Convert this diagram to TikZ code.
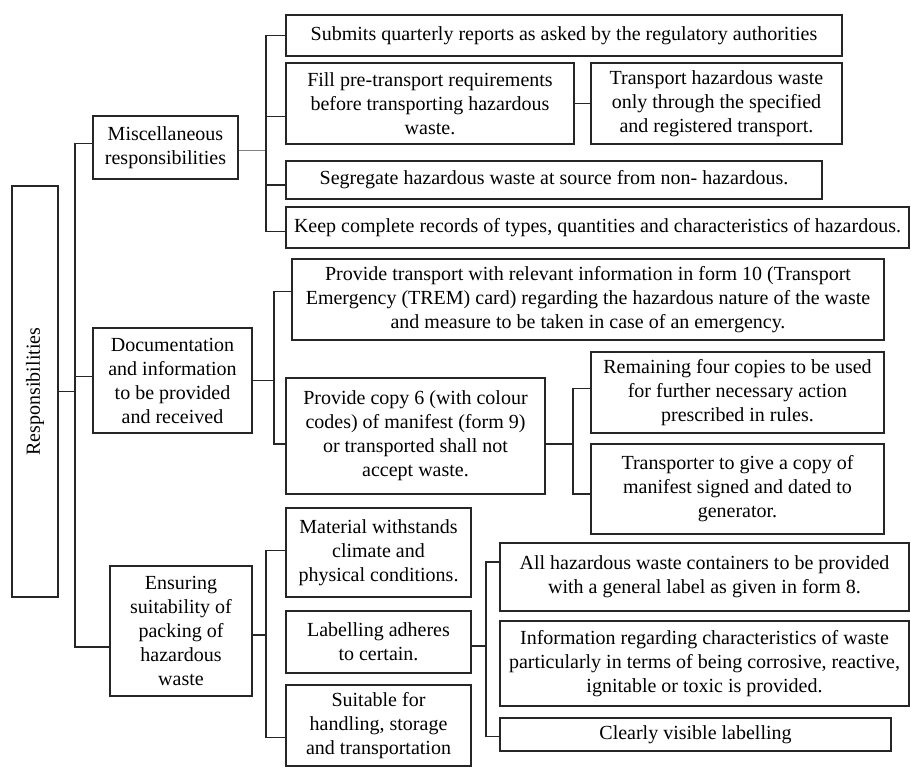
\documentclass[tikz,border=0pt]{standalone}
\usepackage{fontspec}
\setmainfont{Liberation Serif}
\tikzset{
  box/.style={draw=black!85, line width=0.9pt, align=center, inner sep=1pt,
    font=\fontsize{10}{12}\selectfont},
  link/.style={draw=black!85, line width=0.9pt},
}
\begin{document}
\begin{tikzpicture}[x=0.5pt, y=-0.5pt]
      \useasboundingbox (0,0) rectangle (911,767);
      \node[box, rotate=90, minimum width=205.5pt, minimum height=23pt] (root) at (35,391.5) {Responsibilities};
      \node[box, minimum width=72.5pt, minimum height=31.5pt] (misc) at (165.5,147.5) {Miscellaneous\\responsibilities};
      \node[box, minimum width=79.5pt, minimum height=52.5pt] (doc) at (172.5,380.5) {Documentation\\and information\\to be provided\\and received};
      \node[box, minimum width=71pt, minimum height=65pt] (ens) at (181,631) {Ensuring\\suitability of\\packing of\\hazardous\\waste};
      \node[box, minimum width=278pt, minimum height=20.5pt] (submit) at (564,35.5) {Submits quarterly reports as asked by the regulatory authorities};
      \node[box, minimum width=144pt, minimum height=40.5pt] (fill) at (430,103.5) {Fill pre-transport requirements\\before transporting hazardous\\waste.};
      \node[box, minimum width=125.5pt, minimum height=40.5pt] (route) at (716.5,103.5) {Transport hazardous waste\\only through the specified\\and registered transport.};
      \node[box, minimum width=268pt, minimum height=19pt] (segr) at (554,180) {Segregate hazardous waste at source from non- hazardous.};
      \node[box, minimum width=311.5pt, minimum height=20.5pt] (keep) at (597.5,227.5) {Keep complete records of types, quantities and characteristics of hazardous.};
      \node[box, minimum width=296pt, minimum height=40.5pt] (trem) at (588,299.5) {Provide transport with relevant information in form 10 (Transport\\Emergency (TREM) card) regarding the hazardous nature of the waste\\and measure to be taken in case of an emergency.};
      \node[box, minimum width=129.5pt, minimum height=58pt] (copy) at (415.5,436) {Provide copy 6 (with colour\\codes) of manifest (form 9)\\or transported shall not\\accept waste.};
      \node[box, minimum width=146.5pt, minimum height=40.5pt] (remain) at (737.5,392.5) {Remaining four copies to be used\\for further necessary action\\prescribed in rules.};
      \node[box, minimum width=146.5pt, minimum height=45pt] (signed) at (737.5,489) {Transporter to give a copy of\\manifest signed and dated to\\generator.};
      \node[box, minimum width=92.5pt, minimum height=44.5pt] (mat) at (378.5,552.5) {Material withstands\\climate and\\physical conditions.};
      \node[box, minimum width=92.5pt, minimum height=31pt] (lab) at (378.5,642) {Labelling adheres\\to certain.};
      \node[box, minimum width=92.5pt, minimum height=40.5pt] (suit) at (378.5,725.5) {Suitable for\\handling, storage\\and transportation};
      \node[box, minimum width=204.5pt, minimum height=34pt] (label8) at (704.5,577) {All hazardous waste containers to be provided\\with a general label as given in form 8.};
      \node[box, minimum width=204.5pt, minimum height=42.5pt] (info) at (704.5,663.5) {Information regarding characteristics of waste\\particularly in terms of being corrosive, reactive,\\ignitable or toxic is provided.};
      \node[box, minimum width=195.5pt, minimum height=16.5pt] (clear) at (695.5,734.5) {Clearly visible labelling};
      \coordinate (trunk) at (75,391.5);
      \coordinate (miscbus) at (266,150.5);
      \coordinate (docbus) at (274,380.5);
      \coordinate (copybus) at (573,444);
      \coordinate (ensbus) at (266,635);
      \coordinate (labbus) at (486,646);
      \draw[link] (root) -- (trunk);
      \draw[link] (trunk) |- ([yshift=2pt]misc.west);
      \draw[link] (trunk) |- ([yshift=2pt]doc.west);
      \draw[link] (trunk) |- ([yshift=-8pt]ens.west);
      \draw[link, draw=black!50] ([yshift=-1.5pt]misc.east) -- (miscbus);
      \draw[link] (miscbus) |- (submit.west);
      \draw[link] (miscbus) |- ([yshift=-6.5pt]fill.west);
      \draw[link] (miscbus) |- ([yshift=-2.5pt]segr.west);
      \draw[link] (miscbus) |- ([yshift=-2pt]keep.west);
      \draw[link] (fill) -- (route);
      \draw[link] (doc) -- (docbus);
      \draw[link] (docbus) |- ([yshift=4pt]trem.west);
      \draw[link] (docbus) |- ([yshift=-4pt]copy.west);
      \draw[link] ([yshift=-4pt]copy.east) -- (copybus);
      \draw[link] (copybus) |- ([yshift=2pt]remain.west);
      \draw[link] (copybus) |- ([yshift=-2.5pt]signed.west);
      \draw[link] ([yshift=-2pt]ens.east) -- (ensbus);
      \draw[link] (ensbus) |- ([yshift=1pt]mat.west);
      \draw[link] (ensbus) |- ([yshift=-6pt]suit.west);
      \draw[link] ([yshift=-2pt]lab.east) -- (labbus);
      \draw[link] (labbus) |- ([yshift=7.5pt]label8.west);
      \draw[link] (labbus) |- ([yshift=-1pt]clear.west);
\end{tikzpicture}
\end{document}
